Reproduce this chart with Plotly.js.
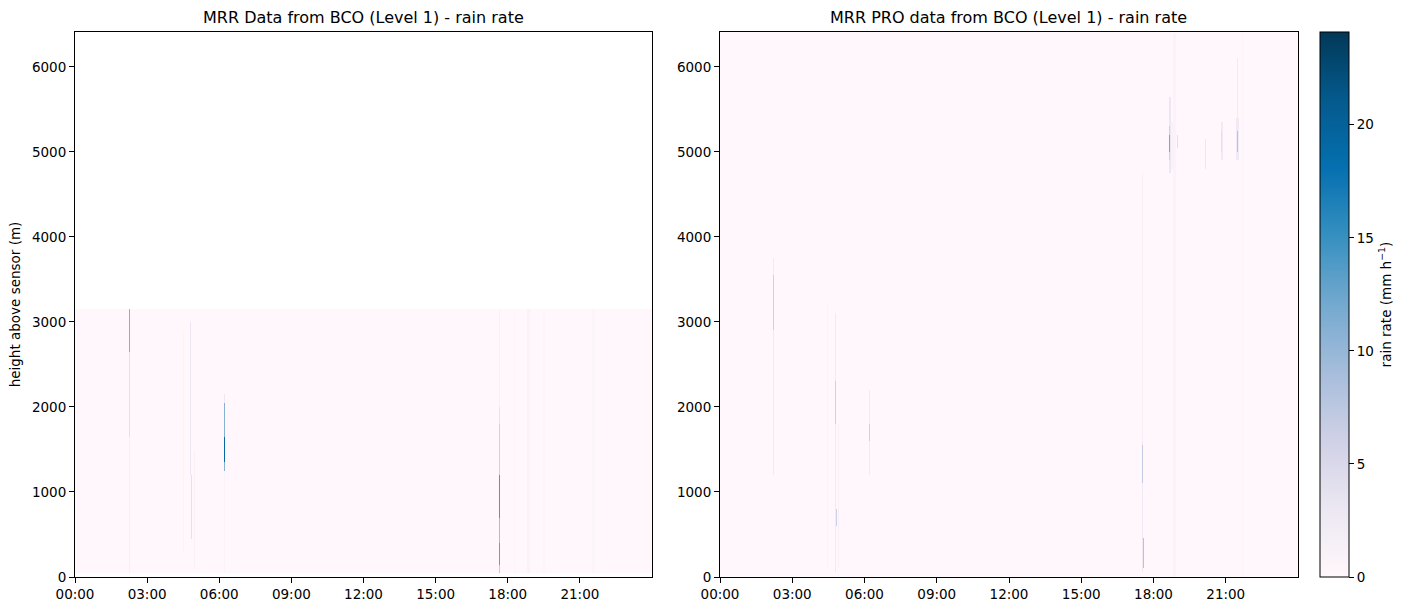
<!DOCTYPE html>
<html>
<head>
<meta charset="utf-8">
<script src="https://cdn.plot.ly/plotly-3.0.1.min.js"></script>
<style>html,body{margin:0;padding:0;background:#fff;}#chart{width:1411px;height:611px;}</style>
</head>
<body>
<div id="chart"></div>
<script>
// ---- data (rain events: centre time in h, width in min, base/top height in m, rate in mm/h)
const tickHours = [0, 3, 6, 9, 12, 15, 18, 21];
const tickLabels = ["00:00", "03:00", "06:00", "09:00", "12:00", "15:00", "18:00", "21:00"];
const heightTicks = [0, 1000, 2000, 3000, 4000, 5000, 6000];
const colorTicks = [0, 5, 10, 15, 20];

// MRR (left)
const mrrTime  = [2.26, 2.26, 2.26, 4.54, 4.82, 4.85, 5.00, 6.21, 6.21, 6.21, 6.21, 6.21, 17.63, 17.63, 17.63, 17.63, 17.63, 17.63, 17.63, 18.30, 18.85, 19.50, 21.55];
const mrrWidth = [2.5,  2.5,  2.5,  2.5,  2.5,  2.5,  2.5,  2.5,  2.5,  2.5,  2.5,  2.5,  2.5,   2.5,   2.5,   2.5,   2.5,   2.5,   2.5,   5,     7.5,   5,     7.5];
const mrrBase  = [2670, 1650, 50,   300,  1200, 435,  100,  2050, 1650, 1350, 1250, 50,   1810,  1180,  700,   400,   165,   50,    2000,  50,    50,    50,    50];
const mrrTop   = [3150, 2670, 1650, 2900, 2990, 1200, 1500, 2150, 2050, 1650, 1350, 2150, 2000,  1810,  1180,  700,   400,   165,   3150,  3150,  3150,  3150,  3150];
const mrrRate  = [11,   4,    1.2,  0.8,  3,    4,    1.2,  3,    11,   19,   11,   0.8,  3.5,   6,     14,    9,     13,    7,     1.2,   0.4,   1.0,   0.4,   0.6];

// MRR PRO (right)
const proTime  = [2.24, 2.24, 4.50, 4.82, 4.82, 4.84, 4.95, 6.19, 6.19, 17.55, 17.58, 17.60, 17.58, 18.66, 18.66, 18.66, 18.99, 18.85, 18.75, 20.14, 20.83, 20.83, 21.48, 21.48, 21.48, 21.67];
const proWidth = [2.5,  2.5,  2.5,  2.5,  2.5,  2.5,  2.5,  2.5,  2.5,  2.5,   2.5,   2.5,   2.5,   5,     2.5,   2.5,   2.5,   7.5,   12.5,  2.5,   5,     2.5,   7.5,   2.5,   2.5,   7.5];
const proBase  = [1220, 2900, 100,  50,   1810, 590,  100,  1220, 1610, 1600,  1100,  80,    50,    4750,  4900,  5000,  5060,  0,     4800,  4820,  4900,  4990,  4900,  5000,  5410,  0];
const proTop   = [3770, 3530, 3200, 3100, 2320, 790,  1800, 2200, 1810, 4750,  1530,  435,   1600,  5650,  5300,  5200,  5200,  6400,  5350,  5140,  5350,  5250,  5400,  5250,  6080,  6400];
const proRate  = [2.5,  6,    0.8,  2.5,  6,    6,    1.5,  2.5,  6,    1.5,   7,     8,     2.5,   3,     6,     12,    4,     0.8,   1,     3,     2.5,   4,     2.5,   8,     2.5,   0.4];

const zMax = 24.1;
const pubu = [[0,'#fff7fb'],[0.125,'#ece7f2'],[0.25,'#d0d1e6'],[0.375,'#a6bddb'],[0.5,'#74a9cf'],[0.625,'#3690c0'],[0.75,'#0570b0'],[0.875,'#045a8d'],[1,'#023858']];

// ---- build gridded fields from the event lists (2.5-minute columns, 50-m range gates)
function buildGrid(yBottom, yTop, dy, times, widths, bases, tops, rates) {
  const dtMin = 2.5, nx = Math.round(24 * 60 / dtMin), ny = Math.round((yTop - yBottom) / dy);
  const x = [], y = [], z = [];
  for (let i = 0; i < nx; i++) x.push((i + 0.5) * dtMin / 60);
  for (let j = 0; j < ny; j++) { y.push(yBottom + (j + 0.5) * dy); z.push(new Array(nx).fill(0)); }
  for (let k = 0; k < times.length; k++) {
    const half = Math.max(widths[k] / 120, dtMin / 120);
    const t0 = times[k] - half, t1 = times[k] + half;
    for (let i = 0; i < nx; i++) {
      if (x[i] < t0 - 1e-9 || x[i] >= t1) continue;
      for (let j = 0; j < ny; j++) {
        if (y[j] < bases[k] || y[j] > tops[k]) continue;
        if (rates[k] > z[j][i]) z[j][i] = rates[k];
      }
    }
  }
  return {x, y, z};
}

const L = buildGrid(50, 3150, 50, mrrTime, mrrWidth, mrrBase, mrrTop, mrrRate);
const R = buildGrid(0, 6450, 50, proTime, proWidth, proBase, proTop, proRate);

const font = {family: 'DejaVu Sans, sans-serif', size: 13.5, color: '#000'};
const titleFont = {family: 'DejaVu Sans, sans-serif', size: 16, color: '#000'};

const traces = [
  {type: 'heatmap', x: L.x, y: L.y, z: L.z, xaxis: 'x', yaxis: 'y', colorscale: pubu, zmin: 0, zmax: zMax,
   zsmooth: false, showscale: false, hoverinfo: 'skip'},
  {type: 'heatmap', x: R.x, y: R.y, z: R.z, xaxis: 'x2', yaxis: 'y2', colorscale: pubu, zmin: 0, zmax: zMax,
   zsmooth: false, hoverinfo: 'skip',
   colorbar: {x: 1320/1411, xanchor: 'left', y: 34/611, yanchor: 'bottom', len: 545/611, lenmode: 'fraction',
     thickness: 29, thicknessmode: 'pixels', xpad: 0, ypad: 0, outlinewidth: 1, outlinecolor: '#000',
     tickvals: colorTicks, ticks: 'outside', ticklen: 5, tickwidth: 1, tickcolor: '#000', tickfont: font,
     title: {text: 'rain rate (mm h<sup>\u22121</sup>)', side: 'right', font: font}}}
];

const axX = (dom, anchor) => ({domain: dom, anchor: anchor, range: [0, 24], tickvals: tickHours, ticktext: tickLabels, ticks: 'outside',
  ticklen: 5, tickwidth: 1, tickcolor: '#000', showline: true, mirror: true, linecolor: '#000', linewidth: 1,
  showgrid: false, zeroline: false, tickfont: font});
const axY = (dom, anchor) => ({domain: dom, anchor: anchor, range: [0, 6410], tickvals: heightTicks, ticks: 'outside',
  ticklen: 5, tickwidth: 1, tickcolor: '#000', showline: true, mirror: true, linecolor: '#000', linewidth: 1,
  showgrid: false, zeroline: false, tickfont: font});

const yDom = [34/611, 579/611];
const layout = {
  width: 1411, height: 611, margin: {l: 0, r: 0, t: 0, b: 0},
  paper_bgcolor: '#fff', plot_bgcolor: '#fff', font: font, showlegend: false,
  xaxis: axX([75/1411, 652/1411], 'y'),
  yaxis: Object.assign(axY(yDom, 'x'), {title: {text: 'height above sensor (m)', font: font, standoff: 8}}),
  xaxis2: axX([720/1411, 1298/1411], 'y2'),
  yaxis2: axY(yDom, 'x2'),
  annotations: [
    {text: 'MRR Data from BCO (Level 1) - rain rate', x: (75+652)/2/1411, y: 1 - 18/611, xref: 'paper', yref: 'paper',
     showarrow: false, xanchor: 'center', yanchor: 'middle', font: titleFont},
    {text: 'MRR PRO data from BCO (Level 1) - rain rate', x: (720+1298)/2/1411, y: 1 - 18/611, xref: 'paper', yref: 'paper',
     showarrow: false, xanchor: 'center', yanchor: 'middle', font: titleFont}
  ]
};

Plotly.newPlot('chart', traces, layout, {staticPlot: true, displayModeBar: false});
</script>
</body>
</html>
